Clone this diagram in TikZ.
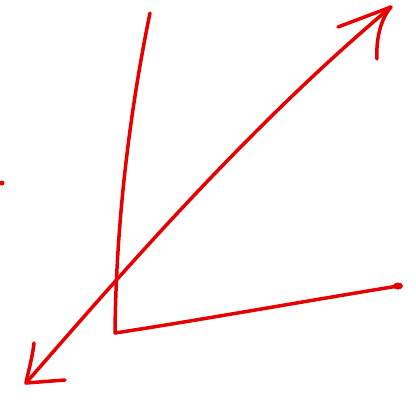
\documentclass[tikz,border=0pt]{standalone}
\usepackage{xcolor}
\usepackage{tikz}
\definecolor{inkred}{HTML}{E60000}

\begin{document}
\begin{tikzpicture}[x=1pt, y=-1pt,
    ink/.style={draw=inkred, line width=3.5pt, line cap=round, line join=round}]
    \useasboundingbox (0,0) rectangle (416,400);
    % corner of the two axes
    \coordinate (corner) at (115,333);
    \coordinate (ytop) at (150,13);
    \coordinate (xend) at (398,286);
    % long double arrow
    \coordinate (tipne) at (391,7);
    \coordinate (tipsw) at (26,383);
    \draw[ink] (ytop) .. controls (128,120) and (116,230) .. (corner);
    \draw[ink] (corner) .. controls (200,320) and (300,302) .. (xend);
    \fill[inkred] (xend) ellipse (5pt and 3.5pt);
    \draw[ink] (tipsw) .. controls (120,275) and (250,125) .. (tipne);
    % barbs
    \draw[ink] (338,27) -- (tipne) .. controls (380,20) and (376,40) .. (377,59);
    \draw[ink] (34,343) .. controls (32,360) and (28,372) .. (tipsw) -- (65,380);
    % stray dot
    \fill[inkred] (2,183) circle (2.5pt) coordinate (dot);
\end{tikzpicture}
\end{document}
